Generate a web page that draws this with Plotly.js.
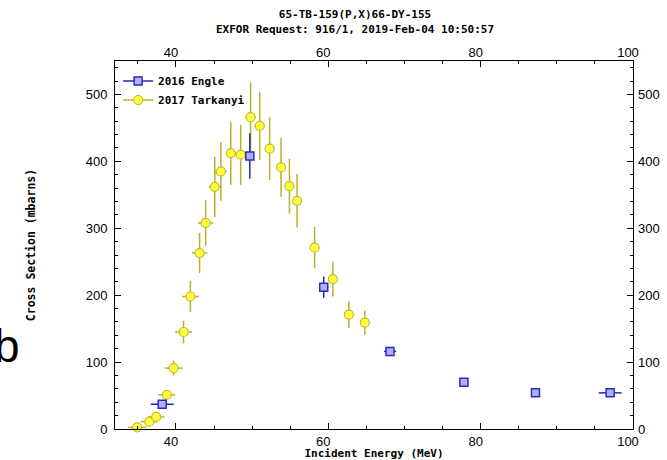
<!DOCTYPE html>
<html>
<head>
<meta charset="utf-8">
<script src="https://cdn.plot.ly/plotly-3.0.1.min.js"></script>
<style>
  html, body { margin: 0; padding: 0; background: #ffffff; }
  #chart { width: 667px; height: 460px; }
</style>
</head>
<body>
<div id="chart"></div>
<script>
// 65-TB-159(p,x)66-DY-155 production cross sections

// 2016 Engle
const engleEnergy   = [38.2, 49.7, 59.4, 68.1, 77.8, 87.2, 97.0];
const engleSigma    = [37, 408, 212, 116, 70, 54, 54];
const engleSigmaErr = [3, 34, 16, 6, 3, 3, 3];
const engleEnergyErr = [1.5, 0.3, 0.3, 0.8, 0.5, 0.5, 1.5];

// 2017 Tarkanyi
const tarkEnergy   = [34.9, 36.5, 37.4, 38.8, 39.7, 41.0, 41.9, 43.1, 43.9, 45.1, 45.9, 47.2,
                      48.5, 49.8, 51.0, 52.3, 53.8, 54.9, 55.9, 58.2, 60.6, 62.7, 64.8];
const tarkSigma    = [2.5, 11, 18, 51, 91, 145, 198, 263, 308, 362, 385, 412,
                      410, 466, 453, 419, 391, 363, 341, 271, 224, 171, 159];
const tarkSigmaErr = [2, 3, 4, 5, 11, 17, 23, 30, 34, 45, 44, 47,
                      45, 52, 51, 47, 44, 41, 40, 31, 26, 20, 18];
const tarkEnergyErr = [1.2, 1.1, 1.1, 1.1, 1.2, 1.1, 1.1, 1.0, 1.0, 0.8, 0.8, 0.7,
                       0.7, 0.7, 0.7, 0.6, 0.6, 0.5, 0.5, 0.4, 0.4, 0.4, 0.4];

const seriesNames = ['2016 Engle', '2017 Tarkanyi'];

// axis extents and tick labels
const xRange = [32, 100];
const yRange = [0, 550];
const xTickVals = [40, 60, 80, 100];
const yTickVals = [0, 100, 200, 300, 400, 500];

const monoFont = 'DejaVu Sans Mono, monospace';
const tickFont = { family: 'Liberation Sans, Arial, sans-serif', size: 13, color: '#000000' };

const engleStyle = {
  marker: { symbol: 'square', size: 8, color: '#b0b0f4', line: { color: '#2a2ac8', width: 1.5 } },
  err: '#2424b4'
};
const tarkStyle = {
  marker: { symbol: 'circle', size: 9, color: '#ffff3c', line: { color: '#c4bc30', width: 1.2 } },
  err: '#b8b030'
};

const traces = [
  {
    x: tarkEnergy, y: tarkSigma, type: 'scatter', mode: 'markers',
    name: seriesNames[1], showlegend: false, cliponaxis: false,
    marker: tarkStyle.marker,
    error_y: { type: 'data', array: tarkSigmaErr, color: tarkStyle.err, thickness: 1.5, width: 0 },
    error_x: { type: 'data', array: tarkEnergyErr, color: tarkStyle.err, thickness: 1.5, width: 0 }
  },
  {
    x: engleEnergy, y: engleSigma, type: 'scatter', mode: 'markers',
    name: seriesNames[0], showlegend: false, cliponaxis: false,
    marker: engleStyle.marker,
    error_y: { type: 'data', array: engleSigmaErr, color: engleStyle.err, thickness: 1.5, width: 0 },
    error_x: { type: 'data', array: engleEnergyErr, color: engleStyle.err, thickness: 1.5, width: 0 }
  },
  // legend keys (symbol with a short bar through it)
  {
    x: [null], y: [null], type: 'scatter', mode: 'lines+markers', name: seriesNames[0],
    legendrank: 1, marker: engleStyle.marker, line: { color: engleStyle.err, width: 1.5 }
  },
  {
    x: [null], y: [null], type: 'scatter', mode: 'lines+markers', name: seriesNames[1],
    legendrank: 2, marker: tarkStyle.marker, line: { color: tarkStyle.err, width: 1.5 }
  },
  // empty trace so the top and right axes are laid out and labelled
  {
    x: [null], y: [null], type: 'scatter', mode: 'markers', xaxis: 'x2', yaxis: 'y2',
    showlegend: false, hoverinfo: 'skip'
  }
];

const minorX = { dtick: 5, ticks: 'inside', ticklen: 3, tickcolor: '#000000', tickwidth: 1 };
const minorY = { dtick: 20, ticks: 'inside', ticklen: 3, tickcolor: '#000000', tickwidth: 1 };

const layout = {
  width: 667, height: 460,
  margin: { l: 115, r: 34, t: 61, b: 31 },
  paper_bgcolor: '#ffffff', plot_bgcolor: '#ffffff',
  showlegend: true,
  legend: {
    x: 0.006, y: 0.985, xanchor: 'left', yanchor: 'top',
    bgcolor: 'rgba(0,0,0,0)', borderwidth: 0,
    font: { family: monoFont, size: 11, color: '#000000', weight: 'bold' },
    tracegroupgap: 0, itemwidth: 30
  },
  title: {
    text: '65-TB-159(P,X)66-DY-155<br>EXFOR Request: 916/1, 2019-Feb-04 10:50:57',
    font: { family: monoFont, size: 11, color: '#000000', weight: 'bold' },
    x: 355 / 667, xanchor: 'center', xref: 'container', y: 0.96, yanchor: 'top', yref: 'container'
  },
  xaxis: {
    range: xRange, tickvals: xTickVals, ticks: 'inside', ticklen: 6, tickwidth: 1,
    tickcolor: '#000000', showline: true, linecolor: '#000000', linewidth: 1, mirror: true,
    showgrid: false, zeroline: false, tickfont: tickFont, ticklabelstandoff: 0,
    ticklabelshift: -5, minor: minorX, fixedrange: true,
    title: { text: 'Incident Energy (MeV)', standoff: 6,
             font: { family: monoFont, size: 11, color: '#000000', weight: 'bold' } }
  },
  xaxis2: {
    range: xRange, tickvals: xTickVals, overlaying: 'x', side: 'top', anchor: 'y',
    ticks: 'inside', ticklen: 6, tickwidth: 1, tickcolor: '#000000',
    showline: false, showgrid: false, zeroline: false, tickfont: tickFont,
    ticklabelshift: -5, minor: minorX, fixedrange: true
  },
  yaxis: {
    range: yRange, tickvals: yTickVals, ticks: 'inside', ticklen: 6, tickwidth: 1,
    tickcolor: '#000000', showline: true, linecolor: '#000000', linewidth: 1, mirror: true,
    showgrid: false, zeroline: false, tickfont: tickFont, ticklabelstandoff: 4,
    minor: minorY, fixedrange: true,
    title: { text: 'Cross Section (mbarns)', standoff: 47,
             font: { family: monoFont, size: 11.5, color: '#000000', weight: 'bold' } }
  },
  yaxis2: {
    range: yRange, tickvals: yTickVals, overlaying: 'y', side: 'right', anchor: 'x',
    ticks: 'inside', ticklen: 6, tickwidth: 1, tickcolor: '#000000',
    showline: false, showgrid: false, zeroline: false, tickfont: tickFont,
    ticklabelstandoff: 4, minor: minorY, fixedrange: true
  },
  annotations: [
    {
      text: 'b', xref: 'paper', yref: 'paper', x: -0.238, y: 0.225,
      xanchor: 'left', yanchor: 'middle', showarrow: false,
      font: { family: 'Liberation Sans, Arial, sans-serif', size: 46, color: '#000000' }
    }
  ]
};

Plotly.newPlot('chart', traces, layout, { displayModeBar: false, staticPlot: true });
</script>
</body>
</html>
